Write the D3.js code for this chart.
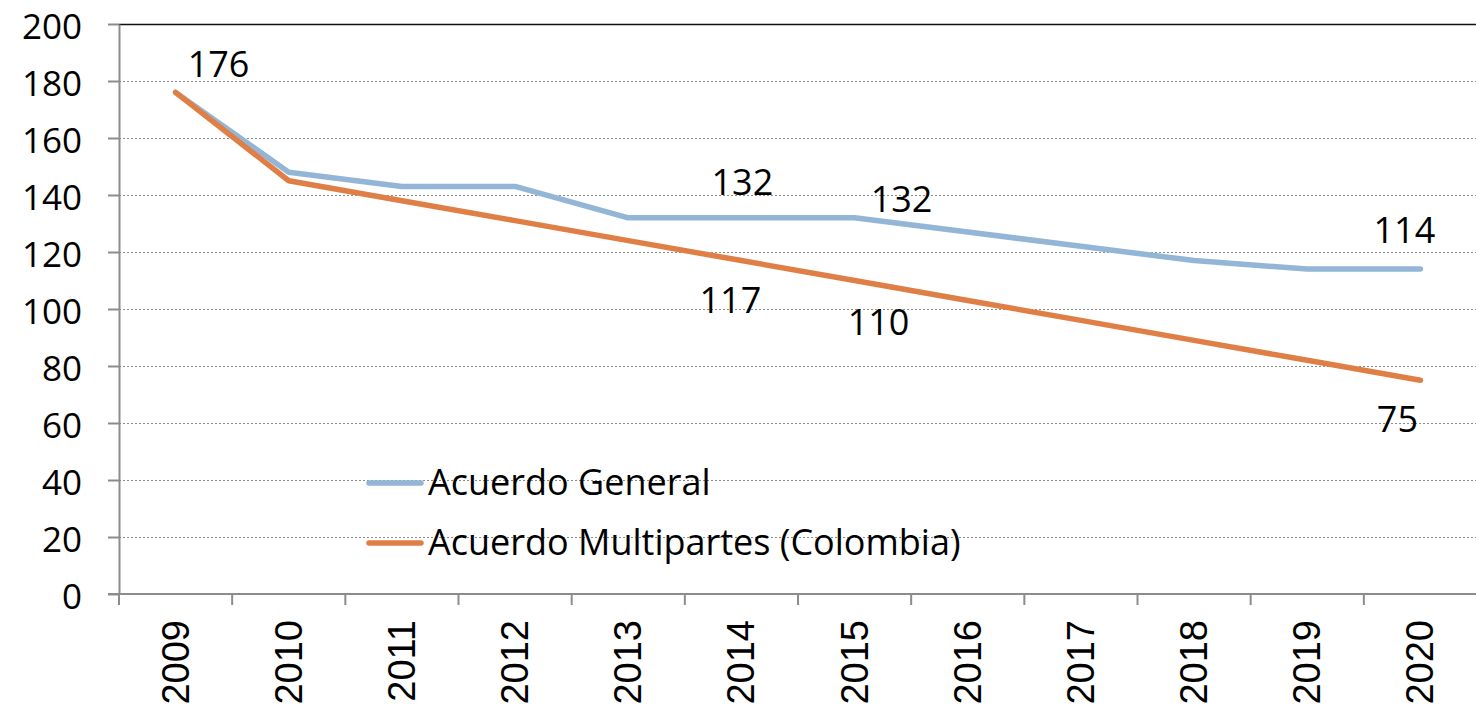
<!DOCTYPE html>
<html>
<head>
<meta charset="utf-8">
<script src="https://cdn.jsdelivr.net/npm/d3@7"></script>
<style>
  body { margin: 0; background: #fff; overflow: hidden; }
  text { font-family: "Open Sans", "DejaVu Sans", sans-serif; fill: #000; }
  .year { font-family: "Liberation Sans", Arial, sans-serif; }
</style>
</head>
<body>
<div id="chart"></div>
<script>
// years + series
var years = ["2009","2010","2011","2012","2013","2014","2015","2016","2017","2018","2019","2020"];
var general = [176, 148, 143, 143, 132, 132, 132, 127, 122, 117, 114, 114];
var multipartes = [176, 145, 138, 131, 124, 117, 110, 103, 96, 89, 82, 75];
var yTicks = [0, 20, 40, 60, 80, 100, 120, 140, 160, 180, 200];
var seriesNames = ["Acuerdo General", "Acuerdo Multipartes (Colombia)"];
var colors = ["#93b5d6", "#e07f45"];

// labels that are shown: [series index, year index, dx, dy]
var shownLabels = [
  [0, 0, 43, -15],
  [0, 5, 1, -23],
  [0, 6, 47, -6],
  [0, 11, -16, -26],
  [1, 5, -11, 52],
  [1, 6, 24, 54],
  [1, 11, -23, 52]
];

var width = 1476, height = 713;
var margin = { top: 24, right: -1, bottom: 119, left: 119 };
var innerW = width - margin.left - margin.right;
var innerH = height - margin.top - margin.bottom;

var svg = d3.select("#chart").append("svg")
  .attr("width", width)
  .attr("height", height);

var g = svg.append("g").attr("transform", "translate(" + margin.left + "," + margin.top + ")");

var x = d3.scaleBand().domain(years).range([0, innerW]);
var y = d3.scaleLinear().domain([0, 200]).range([innerH, 0]);

// gridlines
g.selectAll(".grid")
  .data(yTicks.filter(function(d) { return d > 0 && d < 200; }))
  .enter().append("line")
  .attr("x1", 0).attr("x2", innerW)
  .attr("y1", function(d) { return y(d) + 0.5; })
  .attr("y2", function(d) { return y(d) + 0.5; })
  .attr("stroke", "#8c8c8c")
  .attr("stroke-width", 1.2)
  .attr("stroke-dasharray", "2,2");

// top border (200 line) is solid dark
g.append("line")
  .attr("x1", 0).attr("x2", innerW)
  .attr("y1", y(200) + 0.5).attr("y2", y(200) + 0.5)
  .attr("stroke", "#111").attr("stroke-width", 1.5);

// y axis
var yAxis = g.append("g")
  .call(d3.axisLeft(y).tickValues(yTicks).tickSize(11).tickPadding(26).tickSizeOuter(0));
yAxis.select(".domain").attr("stroke", "#8c8c8c").attr("stroke-width", 2);
yAxis.selectAll(".tick line").attr("stroke", "#8c8c8c").attr("stroke-width", 2);
yAxis.selectAll(".tick text")
  .style("font-size", "35px")
  .style("font-family", "'Open Sans', sans-serif")
  .attr("dy", "0.4em")
  .attr("fill", "#000");

// x axis: ticks on the band edges
var xAxis = g.append("g").attr("transform", "translate(0," + innerH + ")");
xAxis.append("line")
  .attr("x1", -11).attr("x2", innerW)
  .attr("y1", 0).attr("y2", 0)
  .attr("stroke", "#8c8c8c").attr("stroke-width", 2);
xAxis.selectAll(".xtick")
  .data(years)
  .enter().append("line")
  .attr("x1", function(d) { return x(d); })
  .attr("x2", function(d) { return x(d); })
  .attr("y1", 0).attr("y2", 11)
  .attr("stroke", "#8c8c8c").attr("stroke-width", 2);
xAxis.selectAll(".year")
  .data(years)
  .enter().append("text")
  .attr("class", "year")
  .attr("transform", function(d) {
    return "translate(" + (x(d) + x.bandwidth() / 2 + 13) + ",26) rotate(-90)";
  })
  .attr("text-anchor", "end")
  .style("font-size", "38px")
  .text(function(d) { return d; });

// lines
var line = d3.line()
  .x(function(d, i) { return x(years[i]) + x.bandwidth() / 2; })
  .y(function(d) { return y(d); });

[general, multipartes].forEach(function(s, i) {
  g.append("path")
    .datum(s)
    .attr("d", line)
    .attr("fill", "none")
    .attr("stroke", colors[i])
    .attr("stroke-width", 5.5)
    .attr("stroke-linecap", "round")
    .attr("stroke-linejoin", "round");
});

// data labels
var allSeries = [general, multipartes];
g.selectAll(".dlabel")
  .data(shownLabels)
  .enter().append("text")
  .attr("x", function(d) { return x(years[d[1]]) + x.bandwidth() / 2 + d[2]; })
  .attr("y", function(d) { return y(allSeries[d[0]][d[1]]) + d[3]; })
  .attr("text-anchor", "middle")
  .style("font-size", "36px")
  .text(function(d) { return allSeries[d[0]][d[1]]; });

// legend
var legend = svg.append("g").attr("transform", "translate(367,483)");
seriesNames.forEach(function(name, i) {
  var row = legend.append("g").attr("transform", "translate(0," + (i * 60) + ")");
  row.append("line")
    .attr("x1", 2).attr("x2", 54)
    .attr("y1", 0).attr("y2", 0)
    .attr("stroke", colors[i])
    .attr("stroke-width", 5.5)
    .attr("stroke-linecap", "round");
  row.append("text")
    .attr("x", 61)
    .attr("y", 12)
    .style("font-size", "36px")
    .text(name);
});
</script>
</body>
</html>
